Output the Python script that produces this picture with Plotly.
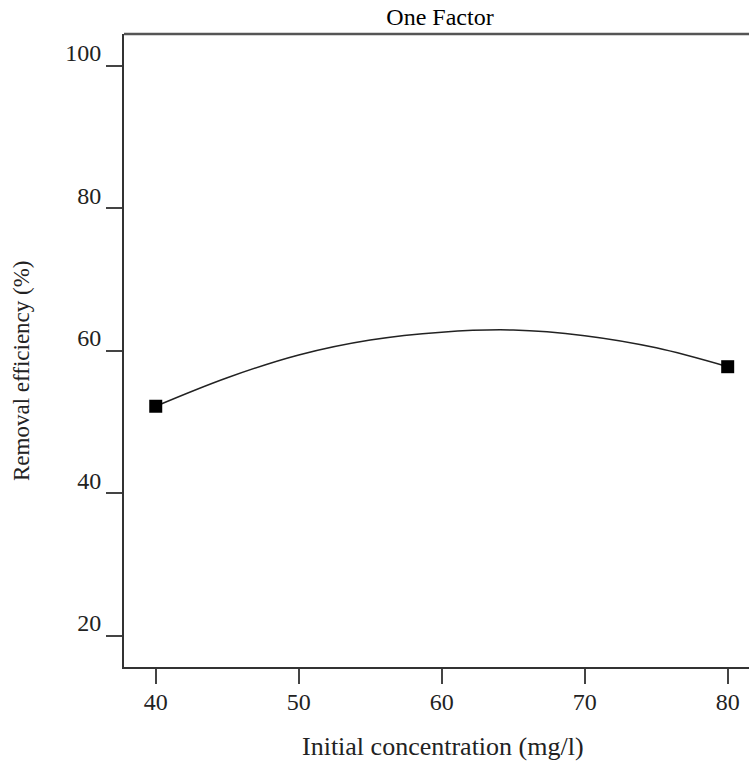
import plotly.graph_objects as go

# Data
design_x = [40, 80]
design_y = [52.2, 57.75]
curve_x = [40, 45, 50, 55, 60, 65, 70, 75, 80]
curve_y = [52.2, 56.2, 59.4, 61.5, 62.6, 62.9, 62.1, 60.4, 57.75]
x_ticks = [40, 50, 60, 70, 80]
y_ticks = [20, 40, 60, 80, 100]

FONT = "Liberation Serif, Times New Roman, serif"
W, H = 749, 761
L, R, T, B = 124, 0, 34, 94
PW, PH = W - L - R, H - T - B

fig = go.Figure()
fig.add_trace(go.Scatter(x=curve_x, y=curve_y, mode="lines",
                         line=dict(color="#222", width=1.5, shape="spline"),
                         showlegend=False, hoverinfo="skip"))
fig.add_trace(go.Scatter(x=design_x, y=design_y, mode="markers",
                         marker=dict(symbol="square", size=13, color="black"),
                         showlegend=False))

fig.update_layout(
    width=W, height=H,
    margin=dict(l=L, r=R, t=T, b=B),
    paper_bgcolor="white", plot_bgcolor="white",
    font=dict(family=FONT, color="#222"),
    title=dict(text="One Factor", x=440 / W, xref="container", xanchor="center",
               y=1 - 17 / H, yref="container", yanchor="middle",
               font=dict(size=24, family=FONT, color="black")),
    xaxis=dict(range=[37.78, 81.49], tickvals=x_ticks, showgrid=False, zeroline=False,
               showline=True, linecolor="#333", linewidth=2, mirror=False,
               ticks="outside", ticklen=15, tickwidth=1.5, tickcolor="#444",
               ticklabelstandoff=-3,
               tickfont=dict(size=24, family=FONT, color="#222")),
    yaxis=dict(range=[15.6, 104.45], tickvals=y_ticks, showgrid=False, zeroline=False,
               showline=True, linecolor="#333", linewidth=2, mirror=False,
               ticks="outside", ticklen=16, tickwidth=1.5, tickcolor="#444",
               ticklabelshift=-13,
               tickfont=dict(size=24, family=FONT, color="#222")),
    shapes=[dict(type="line", xref="paper", yref="paper", x0=0, x1=1, y0=1, y1=1,
                 line=dict(color="#555", width=2.5))],
    annotations=[
        dict(text="Initial concentration (mg/l)", xref="paper", yref="paper",
             x=(443 - L) / PW, y=-(746 - (T + PH)) / PH, xanchor="center", yanchor="middle",
             showarrow=False, font=dict(size=26, family=FONT, color="#222")),
        dict(text="Removal efficiency (%)", xref="paper", yref="paper", textangle=-90,
             x=-(L - 22) / PW, y=(T + PH - 370) / PH, xanchor="center", yanchor="middle",
             showarrow=False, font=dict(size=23, family=FONT, color="#222")),
    ],
)

fig.write_html("out.html", config={"displayModeBar": False},
               post_script="document.body.style.margin='0';")
